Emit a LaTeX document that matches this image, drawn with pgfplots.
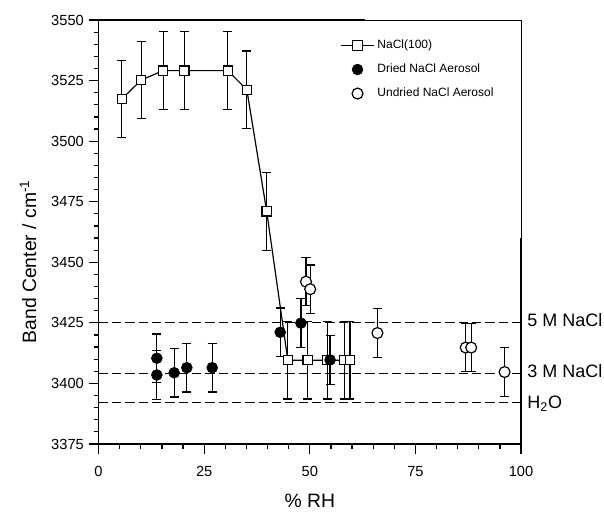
\documentclass[border=0pt]{standalone}
\usepackage{pgfplots}
\usepackage{pgfplotstable}
\pgfplotsset{compat=1.18}
\usepackage{fontspec}
\setmainfont{Liberation Sans}

% NaCl(100) film
\pgfplotstableread{
x y ey
5.5 3517.4 16
10.1 3525.2 16
15.3 3529.1 16
20.3 3529.1 16
30.6 3529.1 16
35.1 3521.2 16
39.8 3471.0 16
44.8 3409.6 16
49.5 3409.6 16
54.2 3409.6 16
58.2 3409.6 16
59.5 3409.6 16
}\nacl

% dried aerosol
\pgfplotstableread{
x y ey
13.8 3410.4 10
13.8 3403.5 10
17.9 3404.4 10
20.9 3406.5 10
26.9 3406.5 10
43.0 3421.1 10
47.9 3424.9 10
54.8 3409.7 10
}\dried

% undried aerosol
\pgfplotstableread{
x y ey
49.1 3442.0 10
50.1 3438.9 10
66.0 3420.8 10
86.9 3414.8 10
88.2 3414.8 10
96.1 3404.7 10
}\undried

\begin{document}
\begin{tikzpicture}
\useasboundingbox (-73.9pt,-52.5pt) rectangle (379.1pt,333pt);
\begin{axis}[
    at={(0pt,0pt)}, anchor=south west,
    width=316.9pt, height=318pt, scale only axis,
    xmin=0, xmax=100, ymin=3375, ymax=3550,
    xtick={0,25,...,100}, ytick={3375,3400,...,3550},
    minor tick num=4,
    tick align=outside,
    major tick length=7.5pt, minor tick length=3.75pt,
    axis x line*=bottom, axis y line*=left,
    axis line style={line width=1.1pt},
    tick style={line width=0.9pt, black},
    /pgf/number format/assume math mode=true,
    /pgf/number format/1000 sep={},
    tick label style={font=\fontsize{11}{13}\selectfont},
    xticklabel style={yshift=-6pt},
    label style={font=\fontsize{14.5}{17}\selectfont},
    xlabel={\% RH},
    ylabel={Band Center / cm\textsuperscript{-1}},
    xlabel style={at={(axis description cs:0.5,-0.133)}, anchor=center},
    ylabel style={at={(axis description cs:-0.167,0.43)}, anchor=center},
    clip=false,
    legend image code/.code={
        \draw[mark repeat=2,mark phase=2,#1] plot coordinates {(0pt,0pt) (12.5pt,0pt) (25pt,0pt)};
    },
    legend style={at={(axis cs:56.2,3544)}, anchor=north west, draw=none, fill=none,
        font=\fontsize{9}{11}\selectfont, row sep=6pt},
    legend cell align=left,
    error bars/error bar style={line width=0.9pt, black},
    error bars/error mark options={rotate=90, mark size=3.4pt, line width=0.9pt, black},
]
% reference levels
\addplot[black, line width=0.8pt, dash pattern=on 7pt off 3pt, forget plot] coordinates {(0,3425) (100,3425)};
\addplot[black, line width=0.8pt, dash pattern=on 7pt off 3pt, forget plot] coordinates {(0,3404) (100,3404)};
\addplot[black, line width=0.8pt, dash pattern=on 7pt off 3pt, forget plot] coordinates {(0,3392) (100,3392)};

\addplot[black, line width=0.9pt, mark=square*, mark size=3.5pt, mark options={fill=white, line width=0.9pt},
    error bars/.cd, y dir=both, y explicit]
    table[x=x, y=y, y error=ey] {\nacl};
\addlegendentry{NaCl(100)}

\addplot[black, only marks, mark=*, mark size=4.1pt, mark options={fill=black},
    error bars/.cd, y dir=both, y explicit]
    table[x=x, y=y, y error=ey] {\dried};
\addlegendentry{Dried NaCl Aerosol}

\addplot[black, only marks, mark=*, mark size=4.1pt, mark options={fill=white, line width=0.9pt},
    error bars/.cd, y dir=both, y explicit]
    table[x=x, y=y, y error=ey] {\undried};
\addlegendentry{Undried NaCl Aerosol}

% remaining frame
\draw[line width=1.1pt] (axis cs:0,3550) -- (axis cs:63,3550);
\draw[line width=0.5pt] (axis cs:63,3550) -- (axis cs:100,3550) -- (axis cs:100,3460);
\draw[line width=1.1pt] (axis cs:100,3460) -- (axis cs:100,3375);

\node[anchor=mid west, inner sep=0pt, font=\fontsize{13.5}{16}\selectfont] at ([xshift=4.5pt]axis cs:100,3425) {5 M NaCl};
\node[anchor=mid west, inner sep=0pt, font=\fontsize{13.5}{16}\selectfont] at ([xshift=4.5pt]axis cs:100,3404) {3 M NaCl};
\node[anchor=mid west, inner sep=0pt, font=\fontsize{13.5}{16}\selectfont] at ([xshift=4.5pt]axis cs:100,3391) {H\textsubscript{2}O};
\end{axis}
\end{tikzpicture}
\end{document}
